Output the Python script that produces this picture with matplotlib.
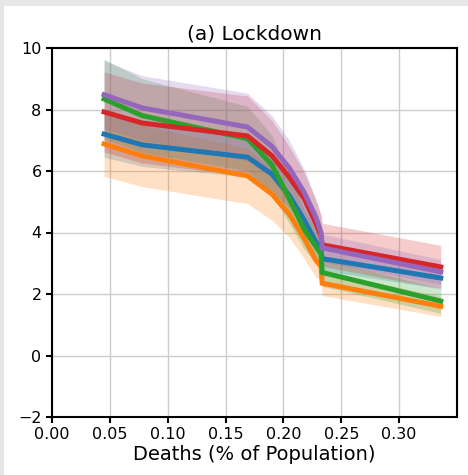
import matplotlib
matplotlib.use("Agg")
import matplotlib.pyplot as plt
from matplotlib.patches import Rectangle
import numpy as np

# Shared x positions (deaths, % of population)
deaths = [0.045, 0.078, 0.169, 0.190, 0.205, 0.218, 0.228, 0.2325, 0.2335, 0.336]

# Series mean values (tab10 colors: blue, orange, green, red, purple)
blue_y   = [7.20, 6.85, 6.45, 5.90, 5.20, 4.40, 3.70, 3.40, 3.15, 2.52]
orange_y = [6.88, 6.49, 5.84, 5.25, 4.60, 3.80, 3.10, 2.90, 2.35, 1.60]
green_y  = [8.34, 7.80, 7.05, 6.20, 5.10, 4.10, 3.55, 3.30, 2.70, 1.77]
red_y    = [7.92, 7.56, 7.14, 6.50, 5.80, 5.10, 4.30, 3.90, 3.60, 2.88]
purple_y = [8.48, 8.05, 7.43, 6.80, 6.10, 5.30, 4.50, 4.00, 3.50, 2.72]

# Band half-widths
blue_sd   = [0.75, 0.70, 0.65, 0.60, 0.55, 0.50, 0.45, 0.40, 0.38, 0.35]
orange_sd = [1.05, 1.00, 0.90, 0.85, 0.75, 0.65, 0.55, 0.45, 0.40, 0.33]
green_sd  = [1.30, 1.20, 1.05, 0.95, 0.80, 0.65, 0.55, 0.50, 0.45, 0.40]
red_sd    = [1.30, 1.30, 1.30, 1.15, 1.00, 0.85, 0.75, 0.70, 0.70, 0.70]
purple_sd = [1.10, 1.05, 1.10, 1.00, 0.90, 0.75, 0.60, 0.50, 0.45, 0.40]

series = [
    (blue_y, blue_sd, "#1f77b4"),
    (orange_y, orange_sd, "#ff7f0e"),
    (green_y, green_sd, "#2ca02c"),
    (red_y, red_sd, "#d62728"),
    (purple_y, purple_sd, "#9467bd"),
]

title = "(a) Lockdown"
xlabel = "Deaths (% of Population)"
xticks = [0.00, 0.05, 0.10, 0.15, 0.20, 0.25, 0.30]
yticks = [-2, 0, 2, 4, 6, 8, 10]

fig = plt.figure(figsize=(4.68, 4.75), dpi=100, facecolor="#e6e6e6")
fig.patches.append(Rectangle((4 / 468, 0), 1, 1 - 6 / 475, transform=fig.transFigure,
                             facecolor="white", edgecolor="none", zorder=-10))
ax = fig.add_axes([52 / 468, 1 - 417 / 475, (457 - 52) / 468, (417 - 48) / 475])

x = np.array(deaths)
for y, sd, c in series:
    y = np.array(y); sd = np.array(sd)
    ax.fill_between(x, y - sd, y + sd, color=c, alpha=0.24, linewidth=0)
for y, sd, c in series:
    ax.plot(x, y, color=c, linewidth=3.6, solid_joinstyle="miter")

ax.set_xlim(0, 0.35)
ax.set_ylim(-2, 10)
ax.set_xticks(xticks)
ax.set_xticklabels([f"{t:.2f}" for t in xticks], fontsize=11.5)
ax.set_yticks(yticks)
ax.set_yticklabels([f"{t}".replace("-", "\u2212") for t in yticks], fontsize=11.5)
ax.grid(True, color="#cccccc", linewidth=1)
ax.set_axisbelow(True)
for s in ax.spines.values():
    s.set_linewidth(1.5)
    s.set_color("black")
ax.tick_params(length=4, width=1.5)
ax.set_title(title, fontsize=14.5, pad=6)
ax.set_xlabel(xlabel, fontsize=14, labelpad=2)

fig.savefig("out.png", dpi=100, facecolor=fig.get_facecolor())
